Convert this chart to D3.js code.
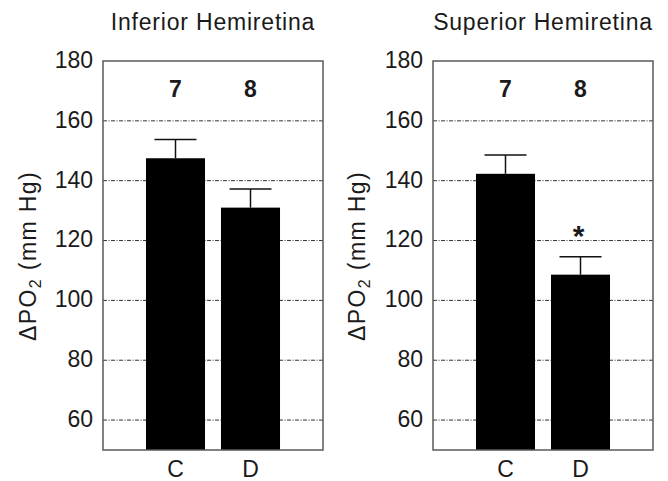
<!DOCTYPE html>
<html lang="en">
<head>
  <meta charset="utf-8">
  <title>Delta PO2 by hemiretina</title>
  <script src="https://d3js.org/d3.v7.min.js"></script>
  <style>
    body {
      margin: 0;
      background: #fff;
      font-family: "Liberation Sans", Arial, sans-serif;
    }
    text {
      fill: #1a1a1a;
    }
    .grid line {
      stroke: #333;
      stroke-width: 1;
      stroke-dasharray: 4, 1.5, 1, 1.5;
    }
  </style>
</head>
<body>
  <script>
    // values
    var panels = ["Inferior Hemiretina", "Superior Hemiretina"];
    var groups = ["C", "D"];
    var means = [[147.5, 131], [142.3, 108.6]];
    var errors = [[6.3, 6.2], [6.3, 6]];
    var counts = [["7", "8"], ["7", "8"]];
    var stars = [["", ""], ["", "*"]];
    var yTicks = [60, 80, 100, 120, 140, 160, 180];

    var width = 668;
    var height = 481;
    var panelLeft = [103, 433];
    var boxW = 220;
    var yTop = 61, yBottom = 450;

    var svg = d3.select("body")
      .append("svg")
      .attr("width", width)
      .attr("height", height);

    var y = d3.scaleLinear()
      .domain([50, 180])
      .range([yBottom, yTop]);

    var x = d3.scaleBand()
      .domain(groups)
      .range([0, boxW])
      .paddingInner(0.213)
      .paddingOuter(0.573);

    panels.forEach(function(title, p) {
      var g = svg.append("g")
        .attr("transform", "translate(" + panelLeft[p] + ",0)");

      // dash-dot gridlines
      g.append("g")
        .attr("class", "grid")
        .selectAll("line")
        .data(yTicks.filter(function(d) { return d < 180; }))
        .enter()
        .append("line")
        .attr("x1", 0)
        .attr("x2", boxW)
        .attr("y1", function(d) { return y(d); })
        .attr("y2", function(d) { return y(d); });

      var data = groups.map(function(k, i) {
        return { key: k, mean: means[p][i], err: errors[p][i], n: counts[p][i], star: stars[p][i] };
      });

      // error bars (upper only)
      var eb = g.selectAll(".err")
        .data(data)
        .enter()
        .append("g")
        .attr("class", "err")
        .attr("stroke", "#111")
        .attr("stroke-width", 1.5);

      eb.append("line")
        .attr("x1", function(d) { return x(d.key) + x.bandwidth() / 2; })
        .attr("x2", function(d) { return x(d.key) + x.bandwidth() / 2; })
        .attr("y1", function(d) { return y(d.mean); })
        .attr("y2", function(d) { return y(d.mean + d.err); });

      eb.append("line")
        .attr("x1", function(d) { return x(d.key) + x.bandwidth() / 2 - 21; })
        .attr("x2", function(d) { return x(d.key) + x.bandwidth() / 2 + 21; })
        .attr("y1", function(d) { return y(d.mean + d.err); })
        .attr("y2", function(d) { return y(d.mean + d.err); });

      g.selectAll(".bar")
        .data(data)
        .enter()
        .append("rect")
        .attr("class", "bar")
        .attr("x", function(d) { return x(d.key); })
        .attr("width", x.bandwidth())
        .attr("y", function(d) { return y(d.mean); })
        .attr("height", function(d) { return y(50) - y(d.mean); })
        .attr("fill", "#000");

      // frame
      g.append("rect")
        .attr("x", 0)
        .attr("y", yTop)
        .attr("width", boxW)
        .attr("height", yBottom - yTop)
        .attr("fill", "none")
        .attr("stroke", "#5a5a5a")
        .attr("stroke-width", 1.5);

      // n per group
      g.selectAll(".count")
        .data(data)
        .enter()
        .append("text")
        .attr("class", "count")
        .attr("x", function(d) { return x(d.key) + x.bandwidth() / 2; })
        .attr("y", 97)
        .attr("text-anchor", "middle")
        .style("font-size", "23px")
        .style("font-weight", "bold")
        .text(function(d) { return d.n; });

      // significance
      g.selectAll(".star")
        .data(data.filter(function(d) { return d.star; }))
        .enter()
        .append("text")
        .attr("class", "star")
        .attr("x", function(d) { return x(d.key) + x.bandwidth() / 2 - 2; })
        .attr("y", function(d) { return y(d.mean + d.err) - 11; })
        .attr("text-anchor", "middle")
        .style("font-size", "30px")
        .style("font-weight", "bold")
        .text(function(d) { return d.star; });

      // y tick labels
      g.selectAll(".ytick")
        .data(yTicks)
        .enter()
        .append("text")
        .attr("class", "ytick")
        .attr("x", -10)
        .attr("y", function(d) { return y(d); })
        .attr("dy", "0.3em")
        .attr("text-anchor", "end")
        .style("font-size", "23px")
        .text(function(d) { return d; });

      // x category labels
      g.selectAll(".xlab")
        .data(groups)
        .enter()
        .append("text")
        .attr("class", "xlab")
        .attr("x", function(d) { return x(d) + x.bandwidth() / 2; })
        .attr("y", 477)
        .attr("text-anchor", "middle")
        .style("font-size", "23px")
        .text(function(d) { return d; });

      // panel title
      g.append("text")
        .attr("x", boxW / 2)
        .attr("y", 30)
        .attr("text-anchor", "middle")
        .style("font-size", "23px")
        .style("letter-spacing", "0.8px")
        .text(title);

      // y axis label
      var yl = g.append("text")
        .attr("transform", "translate(" + (p === 0 ? -67 : -68) + ",256) rotate(-90)")
        .attr("text-anchor", "middle")
        .style("font-size", "23px")
        .style("letter-spacing", "1.4px");
      yl.append("tspan").text("\u0394PO");
      yl.append("tspan").attr("dy", 5).style("font-size", "16px").text("2");
      yl.append("tspan").attr("dy", -5).text(" (mm Hg)");
    });
  </script>
</body>
</html>
